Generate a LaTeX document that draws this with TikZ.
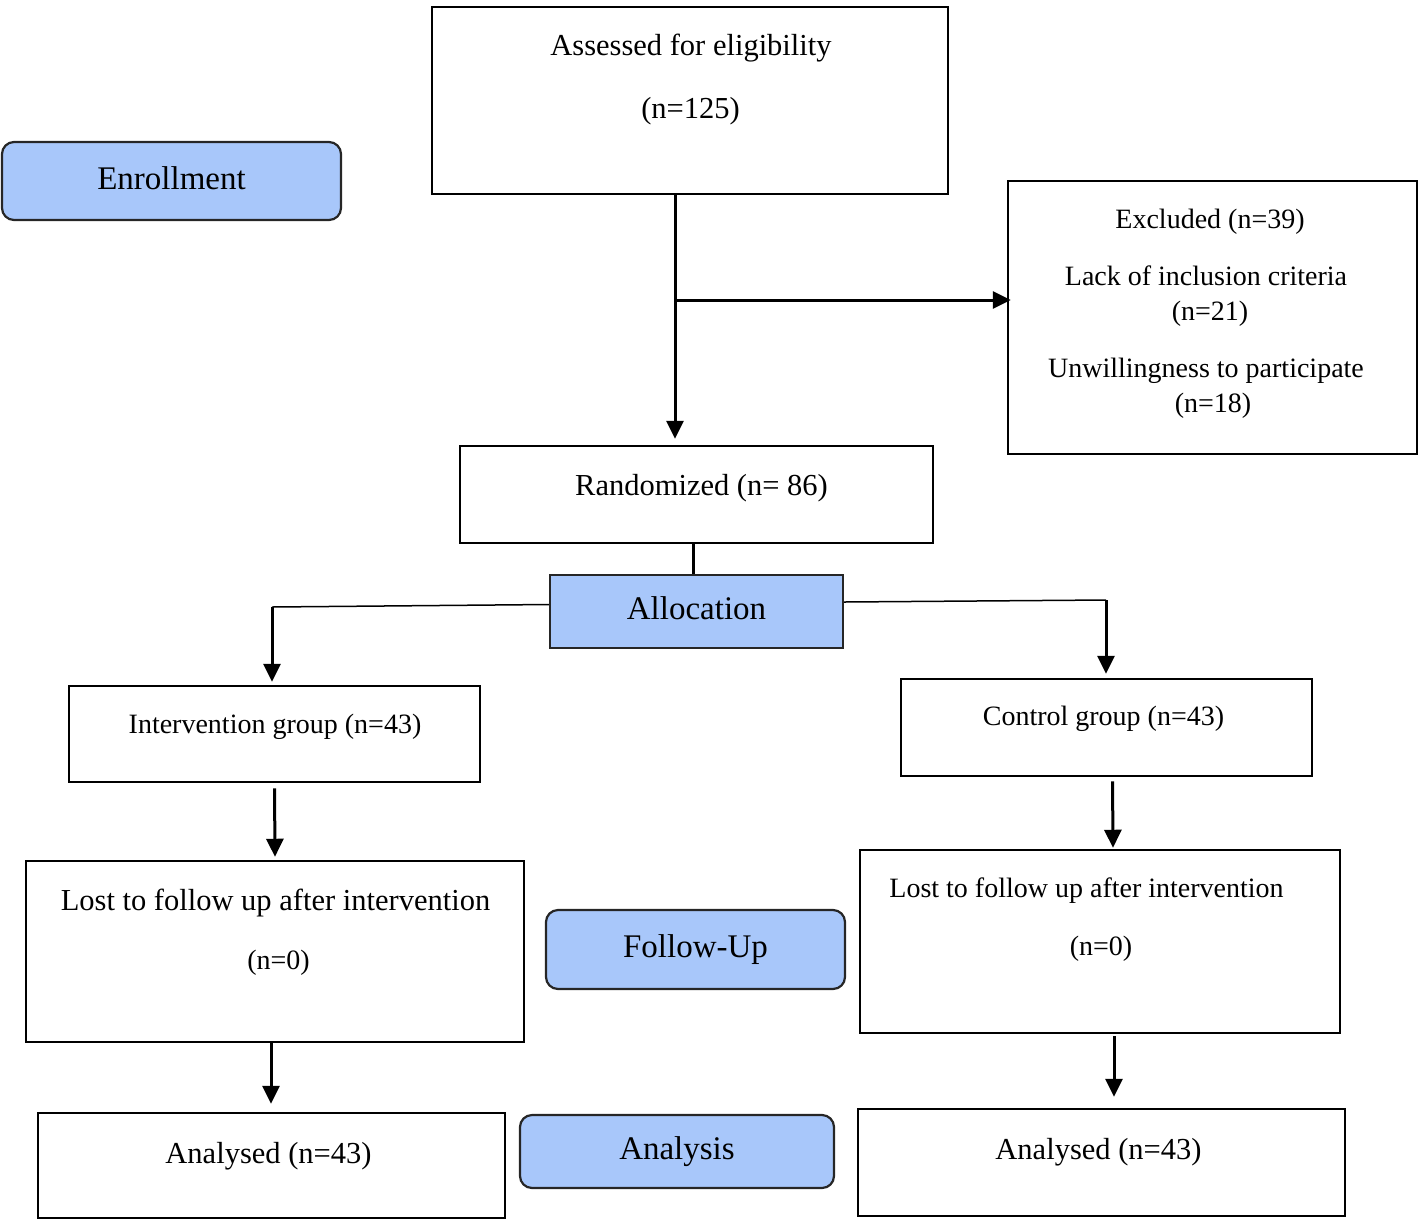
\documentclass[tikz,border=0pt]{standalone}
\usepackage{fontspec}
\setmainfont{Liberation Serif}
\usetikzlibrary{arrows.meta}
\definecolor{stageblue}{RGB}{168,199,250}
\newcommand{\flowfont}{\fontsize{30.5}{36}\selectfont}
\newcommand{\flowsmall}{\fontsize{28}{34}\selectfont}
\newcommand{\stagefont}{\fontsize{33}{40}\selectfont}

\begin{document}
\begin{tikzpicture}[
    x = 1pt, y = -1pt,
    box/.style = {
      draw,
      rectangle,
      line width = 2.5pt,
      inner sep = 0pt,
    },
    stage/.style = {
      draw = black!85,
      fill = stageblue,
      line width = 2.2pt,
      inner sep = 0pt,
      font = \stagefont,
      text height = 24.75pt,
      text depth = 8.25pt,
    },
    txt/.style = { anchor = base, inner sep = 0pt },
    flow arrow/.style = { -{Triangle[length = 18pt, width = 17pt]}, line width = 3pt },
    link/.style = { line width = 1.5pt },
  ]
  \useasboundingbox (0, 0) rectangle (1423, 1219);

  \node [stage, rounded corners = 12pt, minimum width = 339pt, minimum height = 78pt]
    (enrollment) at (171.5, 181) {Enrollment};
  \node [stage, minimum width = 293pt, minimum height = 73pt]
    (allocation) at (696.5, 611.5) {Allocation};
  \node [stage, rounded corners = 12pt, minimum width = 299pt, minimum height = 79pt]
    (follow up) at (695.5, 949.5) {Follow-Up};
  \node [stage, rounded corners = 12pt, minimum width = 314pt, minimum height = 73pt]
    (analysis) at (677, 1151.5) {Analysis};

  \node [box, minimum width = 516pt, minimum height = 187pt] (assessed) at (690, 100.5) {};
  \node [txt, font = \flowfont] (assessed text) at (691, 55) {Assessed for eligibility};
  \node [txt, font = \flowfont] (assessed n) at (690.5, 118) {(n=125)};

  \node [box, minimum width = 409pt, minimum height = 273pt] (excluded) at (1212.5, 317.5) {};
  \node [txt, font = \flowsmall] (excluded text) at (1210, 228) {Excluded (n=39)};
  \node [txt, font = \flowsmall] (lack text) at (1206, 285) {Lack of inclusion criteria};
  \node [txt, font = \flowsmall] (lack n) at (1210, 320) {(n=21)};
  \node [txt, font = \flowsmall] (unwilling text) at (1206, 377) {Unwillingness to participate};
  \node [txt, font = \flowsmall] (unwilling n) at (1213, 412) {(n=18)};

  \node [box, minimum width = 473pt, minimum height = 97pt] (randomized) at (696.5, 494.5) {};
  \node [txt, font = \flowfont] (randomized text) at (701.5, 495) {Randomized (n= 86)};

  \node [box, minimum width = 411pt, minimum height = 96pt] (intervention) at (274.5, 734) {};
  \node [txt, font = \flowsmall] (intervention text) at (275, 733) {Intervention group (n=43)};

  \node [box, minimum width = 411pt, minimum height = 97pt] (control) at (1106.5, 727.5) {};
  \node [txt, font = \flowsmall] (control text) at (1103.5, 725.5) {Control group (n=43)};

  \node [box, minimum width = 498pt, minimum height = 181pt] (lost left) at (275, 951.5) {};
  \node [txt, font = \flowfont] (lost left text) at (275.5, 910) {Lost to follow up after intervention};
  \node [txt, font = \flowsmall] (lost left n) at (278.5, 969) {(n=0)};

  \node [box, minimum width = 480pt, minimum height = 183pt] (lost right) at (1100, 941.5) {};
  \node [txt, font = \flowsmall] (lost right text) at (1086.5, 897) {Lost to follow up after intervention};
  \node [txt, font = \flowsmall] (lost right n) at (1101, 955) {(n=0)};

  \node [box, minimum width = 467pt, minimum height = 105pt] (analysed left) at (271.5, 1165.5) {};
  \node [txt, font = \flowfont] (analysed left text) at (268.5, 1163) {Analysed (n=43)};

  \node [box, minimum width = 487pt, minimum height = 107pt] (analysed right) at (1101.5, 1162.5) {};
  \node [txt, font = \flowfont] (analysed right text) at (1098.5, 1159) {Analysed (n=43)};

  \coordinate (split) at (675, 300);
  \coordinate (left turn) at (272, 607);
  \coordinate (right turn) at (1106, 600);

  \draw [flow arrow, shorten >= 6pt] (assessed.south -| split) -- (randomized.north -| split);
  \draw [flow arrow, shorten >= -4pt] (split) -- (split -| excluded.west);
  \draw [line width = 3pt] ([xshift = -3.5pt] randomized.south) -- ([xshift = -3.5pt] allocation.north);

  \draw [link] ([yshift = 7pt] allocation.west) -- (left turn);
  \draw [flow arrow, shorten >= 3pt] (left turn) -- (left turn |- intervention.north);
  \draw [link] ([yshift = 9.5pt] allocation.east) -- (right turn);
  \draw [flow arrow, shorten >= 4pt] (right turn) -- (right turn |- control.north);

  \draw [flow arrow, shorten <= 5pt, shorten >= 3pt]
    (intervention.south) -- (lost left.north);
  \draw [flow arrow, shorten <= 4pt, shorten >= 1pt]
    ([xshift = 6pt] control.south) -- ([xshift = 13pt] lost right.north);
  \draw [flow arrow, shorten >= 8pt]
    ([xshift = -4pt] lost left.south) -- ([xshift = -0.5pt] analysed left.north);
  \draw [flow arrow, shorten <= 2pt, shorten >= 11pt]
    ([xshift = 14pt] lost right.south) -- ([xshift = 12.5pt] analysed right.north);
\end{tikzpicture}
\end{document}
